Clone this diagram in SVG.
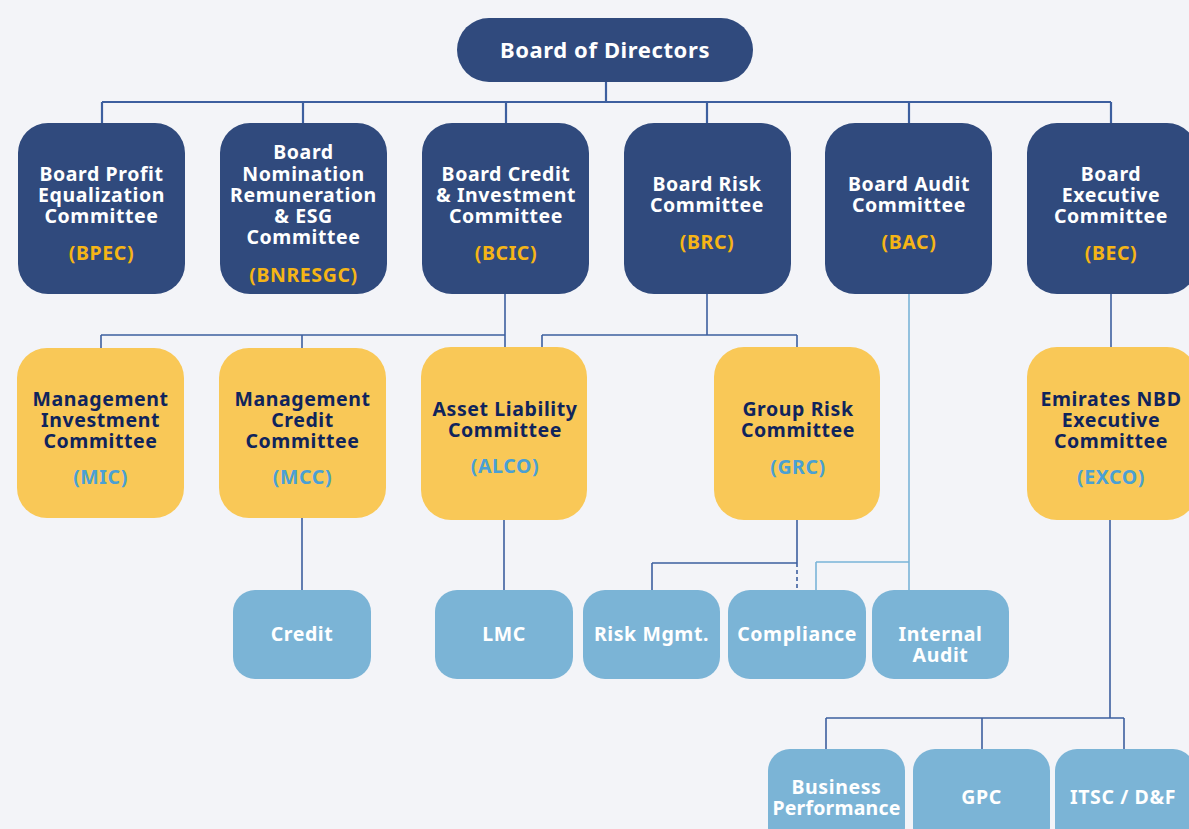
<svg xmlns="http://www.w3.org/2000/svg" width="1189" height="829" viewBox="0 0 1189 829">
<style>
  text { font-family: "Noto Sans", "Open Sans", "Liberation Sans", sans-serif; font-weight: 700; text-anchor: middle; letter-spacing: 0.6px; }
  .dark { fill: #304a7d; }
  .yel { fill: #f9c857; }
  .lb { fill: #7bb4d6; }
  .tw { fill: #ffffff; font-size: 19.5px; }
  .tn { fill: #10245c; font-size: 19.5px; }
  .ao { fill: #f5b516; font-size: 19.5px; }
  .ab { fill: #4aa0d4; font-size: 19.5px; }
  .c { fill: none; stroke: #3d5f9f; stroke-width: 1.6; }
  .c2 { fill: none; stroke: #3d5f9f; stroke-width: 2.2; }
  .cl { fill: none; stroke: #7ab4d8; stroke-width: 1.6; }
</style>
<rect x="0" y="0" width="1189" height="829" fill="#f3f4f8"/>

<g id="connectors">
  <path class="c2" d="M606 82 V102 M102 102 H1111 M102 102 V123 M303 102 V123 M506 102 V123 M707 102 V123 M909 102 V123 M1111 102 V123"/>
  <path class="c" d="M505 294 V347 M101 335 H505 M101 335 V348 M302 335 V348"/>
  <path class="c" d="M707 294 V335 M542 335 H797 M542 335 V347 M797 335 V347"/>
  <path class="c" d="M1111 294 V347"/>
  <path class="c" d="M302 518 V590 M504 520 V590"/>
  <path class="c" d="M797 520 V563 M652 563 H797 M652 563 V590"/>
  <path class="c" d="M797 563 V590" stroke-dasharray="4 3"/>
  <path class="cl" d="M909 294 V590 M816 562 H909 M816 562 V590"/>
  <path class="c" d="M1110 520 V718 M826 718 H1124 M826 718 V749 M982 718 V749 M1124 718 V749"/>
</g>

<g id="bod">
  <rect class="dark" x="457" y="18" width="296" height="64" rx="32"/>
  <text class="tw" x="605" y="58" style="font-size:22px">Board of Directors</text>
</g>

<g id="bpec">
  <rect class="dark" x="18" y="123" width="167" height="171" rx="30"/>
  <text class="tw" x="101.5" y="181">Board Profit</text>
  <text class="tw" x="101.5" y="202">Equalization</text>
  <text class="tw" x="101.5" y="223">Committee</text>
  <text class="ao" x="101.5" y="260">(BPEC)</text>
</g>
<g id="bnresgc">
  <rect class="dark" x="220" y="123" width="167" height="171" rx="30"/>
  <text class="tw" x="303.5" y="159">Board</text>
  <text class="tw" x="303.5" y="181">Nomination</text>
  <text class="tw" x="303.5" y="202">Remuneration</text>
  <text class="tw" x="303.5" y="223">&amp; ESG</text>
  <text class="tw" x="303.5" y="244">Committee</text>
  <text class="ao" x="303.5" y="282">(BNRESGC)</text>
</g>
<g id="bcic">
  <rect class="dark" x="422" y="123" width="167" height="171" rx="30"/>
  <text class="tw" x="506" y="181">Board Credit</text>
  <text class="tw" x="506" y="202">&amp; Investment</text>
  <text class="tw" x="506" y="223">Committee</text>
  <text class="ao" x="506" y="260">(BCIC)</text>
</g>
<g id="brc">
  <rect class="dark" x="624" y="123" width="167" height="171" rx="30"/>
  <text class="tw" x="707" y="191">Board Risk</text>
  <text class="tw" x="707" y="212">Committee</text>
  <text class="ao" x="707" y="249">(BRC)</text>
</g>
<g id="bac">
  <rect class="dark" x="825" y="123" width="167" height="171" rx="30"/>
  <text class="tw" x="909" y="191">Board Audit</text>
  <text class="tw" x="909" y="212">Committee</text>
  <text class="ao" x="909" y="249">(BAC)</text>
</g>
<g id="bec">
  <rect class="dark" x="1027" y="123" width="170" height="171" rx="30"/>
  <text class="tw" x="1111" y="181">Board</text>
  <text class="tw" x="1111" y="202">Executive</text>
  <text class="tw" x="1111" y="223">Committee</text>
  <text class="ao" x="1111" y="260">(BEC)</text>
</g>

<g id="mic">
  <rect class="yel" x="17" y="348" width="167" height="170" rx="30"/>
  <text class="tn" x="100.5" y="406">Management</text>
  <text class="tn" x="100.5" y="427">Investment</text>
  <text class="tn" x="100.5" y="448">Committee</text>
  <text class="ab" x="100.5" y="484">(MIC)</text>
</g>
<g id="mcc">
  <rect class="yel" x="219" y="348" width="167" height="170" rx="30"/>
  <text class="tn" x="302.5" y="406">Management</text>
  <text class="tn" x="302.5" y="427">Credit</text>
  <text class="tn" x="302.5" y="448">Committee</text>
  <text class="ab" x="302.5" y="484">(MCC)</text>
</g>
<g id="alco">
  <rect class="yel" x="421" y="347" width="166" height="173" rx="30"/>
  <text class="tn" x="505" y="416">Asset Liability</text>
  <text class="tn" x="505" y="437">Committee</text>
  <text class="ab" x="505" y="473">(ALCO)</text>
</g>
<g id="grc">
  <rect class="yel" x="714" y="347" width="166" height="173" rx="30"/>
  <text class="tn" x="798" y="416">Group Risk</text>
  <text class="tn" x="798" y="437">Committee</text>
  <text class="ab" x="798" y="474">(GRC)</text>
</g>
<g id="exco">
  <rect class="yel" x="1027" y="347" width="170" height="173" rx="30"/>
  <text class="tn" x="1111" y="406">Emirates NBD</text>
  <text class="tn" x="1111" y="427">Executive</text>
  <text class="tn" x="1111" y="448">Committee</text>
  <text class="ab" x="1111" y="484">(EXCO)</text>
</g>

<g id="credit">
  <rect class="lb" x="233" y="590" width="138" height="89" rx="22"/>
  <text class="tw" x="302" y="641">Credit</text>
</g>
<g id="lmc">
  <rect class="lb" x="435" y="590" width="138" height="89" rx="22"/>
  <text class="tw" x="504" y="641">LMC</text>
</g>
<g id="riskmgmt">
  <rect class="lb" x="583" y="590" width="137" height="89" rx="22"/>
  <text class="tw" x="651.5" y="641">Risk Mgmt.</text>
</g>
<g id="compliance">
  <rect class="lb" x="728" y="590" width="138" height="89" rx="22"/>
  <text class="tw" x="797" y="641">Compliance</text>
</g>
<g id="internalaudit">
  <rect class="lb" x="872" y="590" width="137" height="89" rx="22"/>
  <text class="tw" x="940.5" y="641">Internal</text>
  <text class="tw" x="940.5" y="662">Audit</text>
</g>

<g id="bizperf">
  <rect class="lb" x="768" y="749" width="137" height="100" rx="22"/>
  <text class="tw" x="836.5" y="794">Business</text>
  <text class="tw" x="836.5" y="815" style="letter-spacing:0.2px">Performance</text>
</g>
<g id="gpc">
  <rect class="lb" x="913" y="749" width="137" height="100" rx="22"/>
  <text class="tw" x="981.5" y="804">GPC</text>
</g>
<g id="itsc">
  <rect class="lb" x="1055" y="749" width="140" height="100" rx="22"/>
  <text class="tw" x="1123" y="804">ITSC / D&amp;F</text>
</g>
</svg>
